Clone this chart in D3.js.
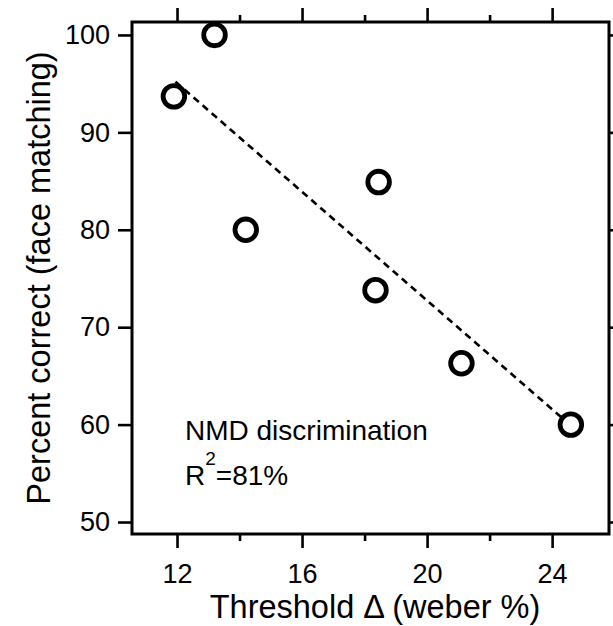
<!DOCTYPE html>
<html>
<head>
<meta charset="utf-8">
<script src="https://cdn.jsdelivr.net/npm/d3@7"></script>
<style>
  body { margin: 0; background: #fff; }
  text { font-family: "Liberation Sans", Arial, sans-serif; fill: #000; }
  .tick line { stroke: #000; stroke-width: 2.6; }
</style>
</head>
<body>
<svg id="chart" width="613" height="626"></svg>
<script>
// threshold (weber %) vs percent correct, one point per subject
const thresholds = [11.9, 13.2, 14.2, 18.45, 18.35, 21.1, 24.6];
const percentCorrect = [93.7, 100, 80, 84.9, 73.8, 66.3, 60];

// dashed fit line
const fitX = [11.95, 24.6];
const fitY = [95.2, 59.9];

const xMajor = [12, 16, 20, 24];
const xMinor = [14, 18, 22];
const yMajor = [50, 60, 70, 80, 90, 100];

const svg = d3.select("#chart");

const x = d3.scaleLinear().domain([10.56, 25.82]).range([132, 609]);
const y = d3.scaleLinear().domain([48.77, 101.33]).range([534, 22]);

// axes
const fmt = d3.format("d");

svg.append("g")
    .attr("transform", `translate(0,${y.range()[0]})`)
    .call(d3.axisBottom(x).tickValues(xMajor).tickSize(14).tickPadding(16).tickFormat(fmt))
    .call(g => g.select(".domain").remove())
    .selectAll("text").style("font-size", "27px");

svg.append("g")
    .attr("transform", `translate(0,${y.range()[0]})`)
    .call(d3.axisBottom(x).tickValues(xMinor).tickSize(7).tickFormat(""))
    .call(g => g.select(".domain").remove());

svg.append("g")
    .attr("transform", `translate(0,${y.range()[1]})`)
    .call(d3.axisTop(x).tickValues(xMajor).tickSize(14).tickFormat(""))
    .call(g => g.select(".domain").remove());

svg.append("g")
    .attr("transform", `translate(0,${y.range()[1]})`)
    .call(d3.axisTop(x).tickValues(xMinor).tickSize(7).tickFormat(""))
    .call(g => g.select(".domain").remove());

svg.append("g")
    .attr("transform", `translate(${x.range()[0]},0)`)
    .call(d3.axisLeft(y).tickValues(yMajor).tickSize(14).tickPadding(8).tickFormat(fmt))
    .call(g => g.select(".domain").remove())
    .selectAll("text").style("font-size", "27px");

svg.append("g")
    .attr("transform", `translate(${x.range()[1]},0)`)
    .call(d3.axisRight(y).tickValues(yMajor).tickSize(8).tickFormat(""))
    .call(g => g.select(".domain").remove());

// frame
svg.append("rect")
    .attr("x", x.range()[0])
    .attr("y", y.range()[1])
    .attr("width", x.range()[1] - x.range()[0])
    .attr("height", y.range()[0] - y.range()[1])
    .attr("fill", "none")
    .attr("stroke", "#000")
    .attr("stroke-width", 3);

// fit line
svg.append("path")
    .datum(d3.zip(fitX, fitY))
    .attr("d", d3.line().x(d => x(d[0])).y(d => y(d[1])))
    .attr("fill", "none")
    .attr("stroke", "#000")
    .attr("stroke-width", 2.6)
    .attr("stroke-dasharray", "7,5");

// points
svg.selectAll(".pt")
    .data(d3.zip(thresholds, percentCorrect))
    .join("circle")
    .attr("class", "pt")
    .attr("cx", d => x(d[0]))
    .attr("cy", d => y(d[1]))
    .attr("r", 10.8)
    .attr("fill", "#fff")
    .attr("stroke", "#000")
    .attr("stroke-width", 4.8);

// annotation
svg.append("text")
    .attr("x", 185)
    .attr("y", 440)
    .style("font-size", "28px")
    .text("NMD discrimination");

const r2 = svg.append("text")
    .attr("x", 185)
    .attr("y", 485)
    .style("font-size", "28px");
r2.append("tspan").text("R");
r2.append("tspan").attr("dy", -20).style("font-size", "19px").text("2");
r2.append("tspan").attr("dy", 20).text("=81%");

// axis titles
svg.append("text")
    .attr("x", 375)
    .attr("y", 618)
    .attr("text-anchor", "middle")
    .style("font-size", "32.5px")
    .text("Threshold \u0394 (weber %)");

svg.append("text")
    .attr("transform", `translate(50,${(y.range()[0] + y.range()[1]) / 2}) rotate(-90)`)
    .attr("text-anchor", "middle")
    .style("font-size", "32.5px")
    .text("Percent correct (face matching)");
</script>
</body>
</html>
